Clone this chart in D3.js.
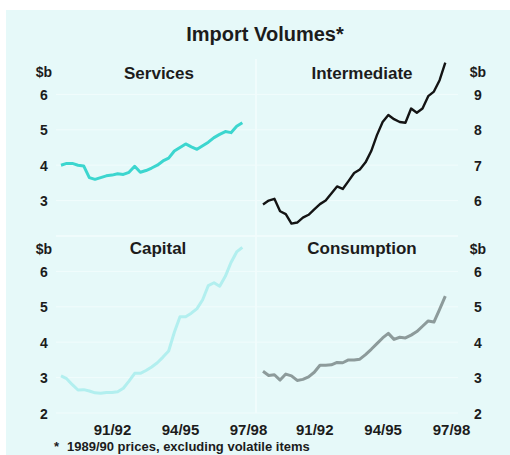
<!DOCTYPE html>
<html>
<head>
<meta charset="utf-8">
<script src="https://cdn.jsdelivr.net/npm/d3@7/dist/d3.min.js"></script>
<style>
    body { margin: 0; background: #fff; }
    svg text { font-family: "Liberation Sans", Arial, sans-serif; font-weight: bold; fill: #1c1c1c; }
</style>
</head>
<body>
<svg id="chart" width="510" height="455"></svg>
<script>
// quarterly observations, Sep qtr 1989 to Sep qtr 1997
const quarters = [
    "1989Q3", "1989Q4",
    "1990Q1", "1990Q2", "1990Q3", "1990Q4",
    "1991Q1", "1991Q2", "1991Q3", "1991Q4",
    "1992Q1", "1992Q2", "1992Q3", "1992Q4",
    "1993Q1", "1993Q2", "1993Q3", "1993Q4",
    "1994Q1", "1994Q2", "1994Q3", "1994Q4",
    "1995Q1", "1995Q2", "1995Q3", "1995Q4",
    "1996Q1", "1996Q2", "1996Q3", "1996Q4",
    "1997Q1", "1997Q2", "1997Q3"
];

const services = [4.0, 4.05, 4.05, 4.0, 3.98, 3.65, 3.6, 3.65, 3.7, 3.72, 3.76, 3.74, 3.8, 3.97, 3.8, 3.85, 3.92,
    4.0, 4.12, 4.2, 4.4, 4.5, 4.6, 4.52, 4.45, 4.55, 4.65, 4.78, 4.87, 4.95, 4.92, 5.1, 5.2];
const intermediate = [5.89, 6.0, 6.05, 5.7, 5.62, 5.35, 5.38, 5.52, 5.6, 5.75, 5.9, 6.0, 6.2, 6.4, 6.33, 6.55, 6.78,
    6.88, 7.08, 7.4, 7.85, 8.22, 8.42, 8.3, 8.22, 8.2, 8.6, 8.48, 8.6, 8.95, 9.08, 9.4, 9.9];
const capital = [3.05, 2.97, 2.8, 2.65, 2.66, 2.62, 2.57, 2.56, 2.58, 2.58, 2.6, 2.7, 2.9, 3.12, 3.12, 3.2, 3.3,
    3.42, 3.58, 3.75, 4.28, 4.72, 4.72, 4.82, 4.95, 5.2, 5.6, 5.68, 5.58, 5.86, 6.25, 6.55, 6.68];
const consumption = [3.18, 3.06, 3.08, 2.93, 3.1, 3.05, 2.92, 2.95, 3.02, 3.15, 3.35, 3.35, 3.36, 3.43, 3.42, 3.5, 3.5,
    3.52, 3.65, 3.8, 3.96, 4.12, 4.25, 4.08, 4.14, 4.12, 4.2, 4.3, 4.45, 4.6, 4.57, 4.93, 5.3];

// financial-year labels sit at the middle of each year
const tickYears = [1992, 1995, 1998];
const tickLabels = ["91/92", "94/95", "97/98"];

const servicesTicks = [3, 4, 5, 6];
const intermediateTicks = [6, 7, 8, 9];
const capitalTicks = [2, 3, 4, 5, 6];
const consumptionTicks = [2, 3, 4, 5, 6];

// "1989Q3" -> 1989.75
const toYear = (q) => +q.slice(0, 4) + (+q.slice(5)) / 4;

const svg = d3.select("#chart");

svg.append("rect").attr("x", 0).attr("y", 0).attr("width", 510).attr("height", 455).attr("fill", "#fff");
svg.append("rect").attr("x", 6).attr("y", 10).attr("width", 504).attr("height", 445).attr("fill", "#e6f9f9");

const plotTop = 59, plotMid = 236, plotBottom = 413;

const panels = [
    { name: "Services", values: services, ticks: servicesTicks, domain: [2, 7], yRange: [plotMid, plotTop],
      xRange: [61, 248], side: "left", color: "#3cd6cf", width: 3, titleX: 159, titleY: 79 },
    { name: "Intermediate", values: intermediate, ticks: intermediateTicks, domain: [5, 10], yRange: [plotMid, plotTop],
      xRange: [263, 451], side: "right", color: "#141414", width: 2.4, titleX: 362, titleY: 79 },
    { name: "Capital", values: capital, ticks: capitalTicks, domain: [2, 7], yRange: [plotBottom, plotMid],
      xRange: [61, 248], side: "left", color: "#b2efef", width: 3, titleX: 158, titleY: 254 },
    { name: "Consumption", values: consumption, ticks: consumptionTicks, domain: [2, 7], yRange: [plotBottom, plotMid],
      xRange: [263, 451], side: "right", color: "#8d9b9b", width: 3, titleX: 362, titleY: 254 }
];

// faint panel dividers
svg.append("line").attr("x1", 56).attr("x2", 458).attr("y1", plotMid).attr("y2", plotMid)
    .attr("stroke", "#f3fdfd").attr("stroke-width", 1.5);
svg.append("line").attr("x1", 256).attr("x2", 256).attr("y1", plotTop).attr("y2", plotBottom)
    .attr("stroke", "#f3fdfd").attr("stroke-width", 1.5);

panels.forEach(p => {
    const x = d3.scaleLinear().domain([1989.75, 1998]).range(p.xRange);
    const y = d3.scaleLinear().domain(p.domain).range(p.yRange);

    // faint gridlines
    svg.append("g").selectAll("line")
        .data(p.ticks)
        .enter().append("line")
        .attr("x1", p.side === "left" ? 56 : 256)
        .attr("x2", p.side === "left" ? 256 : 458)
        .attr("y1", d => y(d)).attr("y2", d => y(d))
        .attr("stroke", "#f1fcfc").attr("stroke-width", 1);

    const line = d3.line()
        .x((d, i) => x(toYear(quarters[i])))
        .y(d => y(d));

    svg.append("path")
        .datum(p.values)
        .attr("fill", "none")
        .attr("stroke", p.color)
        .attr("stroke-width", p.width)
        .attr("stroke-linejoin", "round")
        .attr("d", line);

    const axisX = p.side === "left" ? 44 : 478;
    const yAxis = (p.side === "left" ? d3.axisLeft(y) : d3.axisRight(y))
        .tickValues(p.ticks).tickSize(0).tickFormat(d3.format("d"));
    const g = svg.append("g").attr("transform", `translate(${axisX},0)`).call(yAxis);
    g.select(".domain").remove();
    g.selectAll("text")
        .attr("x", 0).attr("dy", "0.36em")
        .attr("text-anchor", "middle")
        .style("font-size", "14px");

    svg.append("text")
        .attr("x", axisX).attr("y", p.yRange[1] + 18)
        .attr("text-anchor", "middle")
        .style("font-size", "14px")
        .text("$b");

    svg.append("text")
        .attr("x", p.titleX).attr("y", p.titleY)
        .attr("text-anchor", "middle")
        .style("font-size", "17px")
        .text(p.name);

    if (p.yRange[0] === plotBottom) {
        const xAxis = d3.axisBottom(x).tickValues(tickYears).tickSize(0)
            .tickFormat((d, i) => tickLabels[i]);
        const gx = svg.append("g").attr("transform", `translate(0,${plotBottom})`).call(xAxis);
        gx.select(".domain").remove();
        gx.selectAll("text").attr("y", 22).attr("dy", 0).style("font-size", "15px");
    }
});

svg.append("text")
    .attr("x", 265).attr("y", 41)
    .attr("text-anchor", "middle")
    .style("font-size", "20px")
    .text("Import Volumes*");

// footnote: asterisk set apart from the text
svg.append("text")
    .attr("x", 54).attr("y", 451)
    .style("font-size", "13px")
    .text("*");
svg.append("text")
    .attr("x", 67).attr("y", 451)
    .style("font-size", "13px")
    .text("1989/90 prices, excluding volatile items");
</script>
</body>
</html>
